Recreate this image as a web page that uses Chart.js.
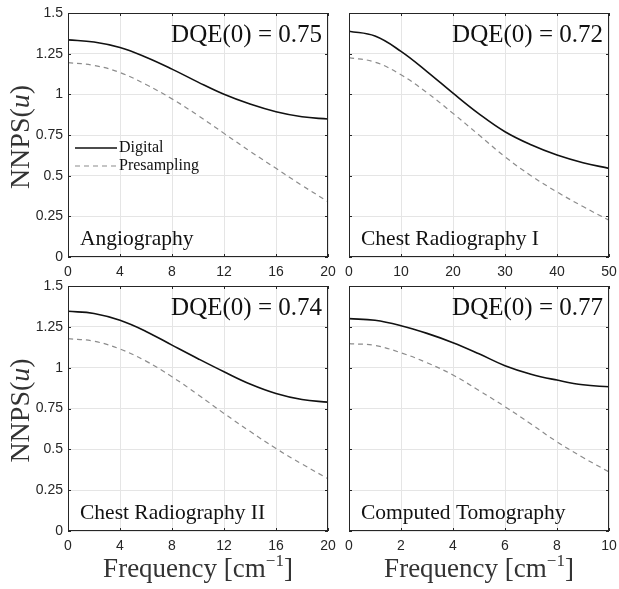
<!DOCTYPE html>
<html>
<head>
<meta charset="utf-8">
<script src="https://cdn.jsdelivr.net/npm/chart.js@4"></script>
<style>
  body { margin: 0; background: #fff; }
  #wrap { position: relative; width: 619px; height: 589px; }
  canvas { position: absolute; }
</style>
</head>
<body>
<div id="wrap">
  <canvas id="c1" width="340" height="284" style="left:0;top:0"></canvas>
  <canvas id="c2" width="289" height="284" style="left:330px;top:0"></canvas>
  <canvas id="c3" width="340" height="319" style="left:0;top:270px"></canvas>
  <canvas id="c4" width="289" height="319" style="left:330px;top:270px"></canvas>
</div>
<script>
// frequency grids (cm^-1)
const freqAngio = [0, 2, 4, 6, 8, 10, 12, 14, 16, 18, 20];
const freqChest1 = [0, 5, 10, 15, 20, 25, 30, 35, 40, 45, 50];
const freqChest2 = [0, 2, 4, 6, 8, 10, 12, 14, 16, 18, 20];
const freqCT = [0, 1, 2, 3, 4, 5, 6, 7, 8, 9, 10];

// NNPS values
const angioDigital = [1.335, 1.322, 1.288, 1.228, 1.155, 1.075, 1.0, 0.94, 0.893, 0.862, 0.848];
const angioPresamp = [1.195, 1.178, 1.134, 1.06, 0.972, 0.87, 0.76, 0.65, 0.545, 0.44, 0.34];
const chest1Digital = [1.388, 1.358, 1.264, 1.14, 1.007, 0.88, 0.77, 0.69, 0.627, 0.58, 0.545];
const chest1Presamp = [1.226, 1.198, 1.12, 1.01, 0.883, 0.75, 0.616, 0.5, 0.40, 0.31, 0.226];
const chest2Digital = [1.345, 1.332, 1.29, 1.222, 1.138, 1.055, 0.975, 0.9, 0.842, 0.805, 0.789];
const chest2Presamp = [1.178, 1.162, 1.114, 1.04, 0.944, 0.835, 0.72, 0.61, 0.505, 0.41, 0.32];
const ctDigital = [1.3, 1.29, 1.257, 1.21, 1.153, 1.085, 1.012, 0.96, 0.924, 0.895, 0.883];
const ctPresamp = [1.147, 1.136, 1.091, 1.03, 0.955, 0.86, 0.761, 0.655, 0.546, 0.45, 0.362];

const seriesNames = ["Digital", "Presampling"];
const yTicks = [0, 0.25, 0.5, 0.75, 1, 1.25, 1.5];

const axisCol = "#262626";
const gridCol = "#e5e5e5";
const serif = '"Liberation Serif", "Times New Roman", serif';
const sans = '"Liberation Sans", Arial, sans-serif';

// draws pieces of text one after another, each with its own font and y offset
function runText(ctx, parts, x, y) {
  let w = 0;
  parts.forEach(p => { ctx.font = p.font; w += ctx.measureText(p.t).width; });
  let cx = x - w / 2;
  parts.forEach(p => {
    ctx.font = p.font;
    ctx.fillText(p.t, cx, y + (p.dy || 0));
    cx += ctx.measureText(p.t).width;
  });
}

const boxPlugin = {
  id: "box",
  afterDatasetsDraw(chart, args, opts) {
    const ctx = chart.ctx;
    const a = chart.chartArea;
    const x = chart.scales.x, y = chart.scales.y;
    ctx.save();
    ctx.strokeStyle = axisCol;
    ctx.lineWidth = 1;
    ctx.strokeRect(Math.round(a.left) + 0.5, Math.round(a.top) + 0.5,
                   Math.round(a.width) - 1, Math.round(a.height) - 1);
    ctx.beginPath();
    x.ticks.forEach(t => {
      const px = Math.round(x.getPixelForValue(t.value)) + 0.5;
      ctx.moveTo(px, a.bottom); ctx.lineTo(px, a.bottom - 3);
      ctx.moveTo(px, a.top); ctx.lineTo(px, a.top + 3);
    });
    y.ticks.forEach(t => {
      const py = Math.round(y.getPixelForValue(t.value)) + 0.5;
      ctx.moveTo(a.left, py); ctx.lineTo(a.left + 3, py);
      ctx.moveTo(a.right, py); ctx.lineTo(a.right - 3, py);
    });
    ctx.stroke();

    ctx.fillStyle = "#111";
    ctx.font = "25px " + serif;
    ctx.textAlign = "right";
    ctx.textBaseline = "alphabetic";
    ctx.fillText(opts.dqe, a.right - 6, a.top + 29);
    ctx.font = "21.5px " + serif;
    ctx.textAlign = "left";
    ctx.fillText(opts.name, a.left + 12, a.bottom - 12);

    if (opts.legend) {
      const lx = a.left + 7, ly = a.top + 135;
      ctx.lineWidth = 1.6;
      ctx.strokeStyle = "#111";
      ctx.beginPath(); ctx.moveTo(lx, ly); ctx.lineTo(lx + 42, ly); ctx.stroke();
      ctx.lineWidth = 1.2;
      ctx.strokeStyle = "#8c8c8c";
      ctx.setLineDash([5, 4]);
      ctx.beginPath(); ctx.moveTo(lx, ly + 18); ctx.lineTo(lx + 42, ly + 18); ctx.stroke();
      ctx.setLineDash([]);
      ctx.font = "16px " + serif;
      ctx.fillStyle = "#111";
      ctx.textBaseline = "middle";
      ctx.fillText(seriesNames[0], lx + 44, ly);
      ctx.fillText(seriesNames[1], lx + 44, ly + 18);
    }
    ctx.restore();
  },
  afterDraw(chart, args, opts) {
    const ctx = chart.ctx;
    const a = chart.chartArea;
    ctx.save();
    ctx.fillStyle = "#333";
    ctx.textAlign = "left";
    ctx.textBaseline = "alphabetic";
    if (opts.yTitle) {
      ctx.translate(29, (a.top + a.bottom) / 2 + 2);
      ctx.rotate(-Math.PI / 2);
      runText(ctx, [
        { t: "NNPS(", font: "28px " + serif },
        { t: "u", font: "italic 28px " + serif },
        { t: ")", font: "28px " + serif }
      ], 0, 0);
      ctx.setTransform(1, 0, 0, 1, 0, 0);
    }
    if (opts.xTitle) {
      runText(ctx, [
        { t: "Frequency [cm", font: "27px " + serif },
        { t: "\u22121", font: "17px " + serif, dy: -11 },
        { t: "]", font: "27px " + serif }
      ], (a.left + a.right) / 2, a.bottom + 46);
    }
    ctx.restore();
  }
};

function makeChart(id, freq, dig, pre, xmax, xstep, opts) {
  const toPts = vals => vals.map((v, i) => ({ x: freq[i], y: v }));
  return new Chart(document.getElementById(id), {
    type: "line",
    data: {
      datasets: [
        {
          label: seriesNames[0],
          data: toPts(dig),
          borderColor: "#111",
          borderWidth: 1.6,
          pointRadius: 0,
          tension: 0.4
        },
        {
          label: seriesNames[1],
          data: toPts(pre),
          borderColor: "#8c8c8c",
          borderWidth: 1.2,
          borderDash: [5, 4],
          pointRadius: 0,
          tension: 0.4
        }
      ]
    },
    options: {
      responsive: false,
      animation: false,
      layout: { padding: { top: opts.padTop, right: opts.padRight, left: 0, bottom: 0 } },
      plugins: {
        legend: { display: false },
        tooltip: { enabled: false },
        box: { dqe: opts.dqe, name: opts.name, legend: opts.legend, yTitle: opts.yLabels, xTitle: opts.xTitle }
      },
      scales: {
        x: {
          type: "linear",
          min: 0, max: xmax,
          ticks: { stepSize: xstep, color: axisCol, font: { family: sans, size: 14 }, padding: 7, maxRotation: 0 },
          grid: { color: gridCol, drawTicks: false },
          border: { display: false },
          afterFit: s => { s.height = opts.xHeight; s.paddingLeft = 0; s.paddingRight = 0; }
        },
        y: {
          min: 0, max: 1.5,
          afterBuildTicks: s => { s.ticks = yTicks.map(v => ({ value: v })); },
          ticks: {
            display: opts.yLabels, color: axisCol, font: { family: sans, size: 14 }, padding: 5,
            callback: v => String(v)
          },
          grid: { color: gridCol, drawTicks: false },
          border: { display: false },
          afterFit: s => { s.width = opts.yWidth; s.paddingTop = 0; s.paddingBottom = 0; }
        }
      }
    },
    plugins: [boxPlugin]
  });
}

makeChart("c1", freqAngio, angioDigital, angioPresamp, 20, 4,
  { padTop: 13, padRight: 12, xHeight: 27, yWidth: 68, yLabels: true, xTitle: false,
    dqe: "DQE(0) = 0.75", name: "Angiography", legend: true });
makeChart("c2", freqChest1, chest1Digital, chest1Presamp, 50, 10,
  { padTop: 13, padRight: 10, xHeight: 27, yWidth: 19, yLabels: false, xTitle: false,
    dqe: "DQE(0) = 0.72", name: "Chest Radiography I", legend: false });
makeChart("c3", freqChest2, chest2Digital, chest2Presamp, 20, 4,
  { padTop: 16, padRight: 12, xHeight: 58, yWidth: 68, yLabels: true, xTitle: true,
    dqe: "DQE(0) = 0.74", name: "Chest Radiography II", legend: false });
makeChart("c4", freqCT, ctDigital, ctPresamp, 10, 2,
  { padTop: 16, padRight: 10, xHeight: 58, yWidth: 19, yLabels: false, xTitle: true,
    dqe: "DQE(0) = 0.77", name: "Computed Tomography", legend: false });
</script>
</body>
</html>
